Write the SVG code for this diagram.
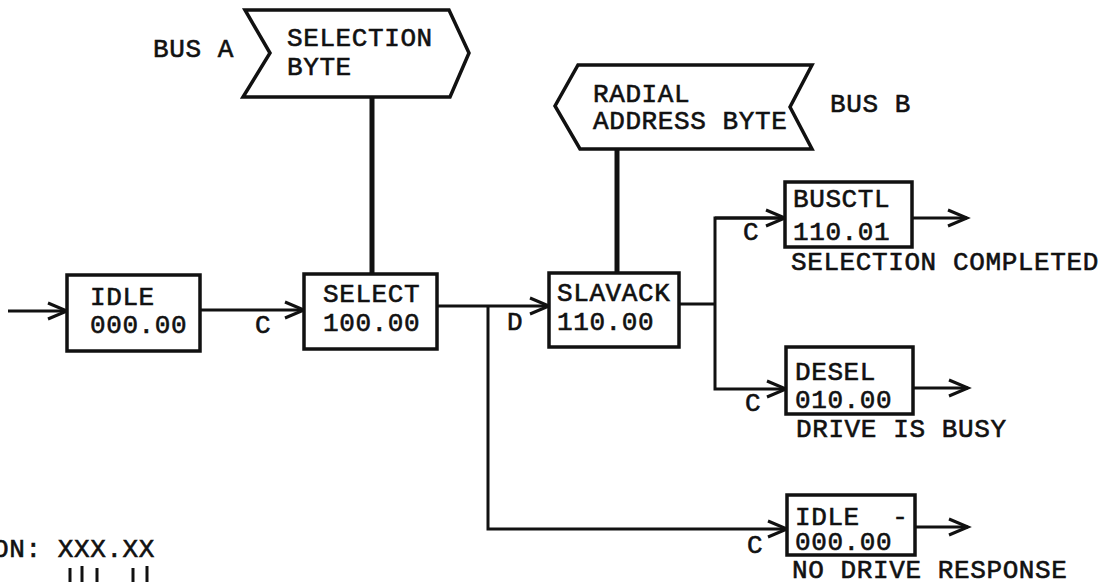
<svg xmlns="http://www.w3.org/2000/svg" width="1113" height="582" viewBox="0 0 1113 582">
<style>
text{font-family:"Liberation Mono","DejaVu Sans Mono",monospace;font-size:26px;letter-spacing:0.6px;fill:#111;stroke:#111;stroke-width:0.6}
.box{fill:#fff;stroke:#111;stroke-width:3.5}
.ban{fill:#fff;stroke:#111;stroke-width:3.5;stroke-linejoin:miter}
.ln{fill:none;stroke:#111;stroke-width:3}
.bus{fill:none;stroke:#111;stroke-width:5}
</style>
<defs>
<marker id="arr" markerUnits="userSpaceOnUse" markerWidth="26" markerHeight="22" refX="21" refY="10" orient="auto">
<path d="M2,2 L21,10 L2,18" fill="none" stroke="#111" stroke-width="3"/>
</marker>
</defs>
<rect width="1113" height="582" fill="#fff"/>
<g id="connectors">
<line class="bus" x1="372" y1="97" x2="372" y2="274"/>
<line class="bus" x1="617" y1="149" x2="617" y2="273"/>
<line class="ln" x1="8" y1="311" x2="67" y2="311" marker-end="url(#arr)"/>
<line class="ln" x1="200" y1="310" x2="304" y2="310" marker-end="url(#arr)"/>
<line class="ln" x1="437" y1="306" x2="549" y2="306" marker-end="url(#arr)"/>
<polyline class="ln" points="488,306 488,529 787,529" marker-end="url(#arr)"/>
<line class="ln" x1="679" y1="304" x2="715" y2="304"/>
<polyline class="ln" points="785,218 715,218 715,389 786,389" marker-end="url(#arr)"/>
<line class="ln" x1="715" y1="218" x2="785" y2="218" marker-end="url(#arr)"/>
<line class="ln" x1="912" y1="218" x2="967" y2="218" marker-end="url(#arr)"/>
<line class="ln" x1="913" y1="388" x2="968" y2="388" marker-end="url(#arr)"/>
<line class="ln" x1="915" y1="527" x2="968" y2="527" marker-end="url(#arr)"/>
<text x="255" y="333">C</text>
<text x="507" y="330">D</text>
<text x="743" y="240">C</text>
<text x="745" y="411">C</text>
<text x="747" y="553">C</text>
</g>
<g id="selection-byte">
<polygon class="ban" points="245,10 449,10 469,53 450,97 243,97 270,53"/>
<text x="287" y="46">SELECTION</text>
<text x="287" y="75">BYTE</text>
<text x="153" y="57">BUS A</text>
</g>
<g id="radial-address-byte">
<polygon class="ban" points="578,65 812,65 790,107 812,149 580,149 555,106"/>
<text x="593" y="102">RADIAL</text>
<text x="593" y="129">ADDRESS BYTE</text>
<text x="830" y="112">BUS B</text>
</g>
<g id="idle">
<rect class="box" x="67" y="275" width="133" height="76"/>
<text x="90" y="305">IDLE</text>
<text x="90" y="333">000.00</text>
</g>
<g id="select">
<rect class="box" x="304" y="274" width="133" height="75"/>
<text x="323" y="302">SELECT</text>
<text x="323" y="331">100.00</text>
</g>
<g id="slavack">
<rect class="box" x="549" y="273" width="130" height="74"/>
<text x="557" y="301">SLAVACK</text>
<text x="557" y="330">110.00</text>
</g>
<g id="busctl">
<rect class="box" x="785" y="182" width="127" height="65"/>
<text x="793" y="207">BUSCTL</text>
<text x="793" y="240">110.01</text>
<text x="791" y="270">SELECTION COMPLETED</text>
</g>
<g id="desel">
<rect class="box" x="786" y="347" width="127" height="67"/>
<text x="795" y="380">DESEL</text>
<text x="795" y="408">010.00</text>
<text x="796" y="437">DRIVE IS BUSY</text>
</g>
<g id="idle-2">
<rect class="box" x="787" y="495" width="128" height="60"/>
<text x="795" y="525" xml:space="preserve">IDLE  -</text>
<text x="795" y="550">000.00</text>
<text x="792" y="578">NO DRIVE RESPONSE</text>
</g>
<g id="legend">
<text x="-7" y="557">ON: XXX.XX</text>
<g class="ln">
<line x1="70" y1="568" x2="70" y2="582"/>
<line x1="82" y1="566" x2="82" y2="582"/>
<line x1="97" y1="568" x2="97" y2="582"/>
<line x1="133" y1="568" x2="133" y2="582"/>
<line x1="147" y1="566" x2="147" y2="582"/>
</g>
</g>
</svg>
